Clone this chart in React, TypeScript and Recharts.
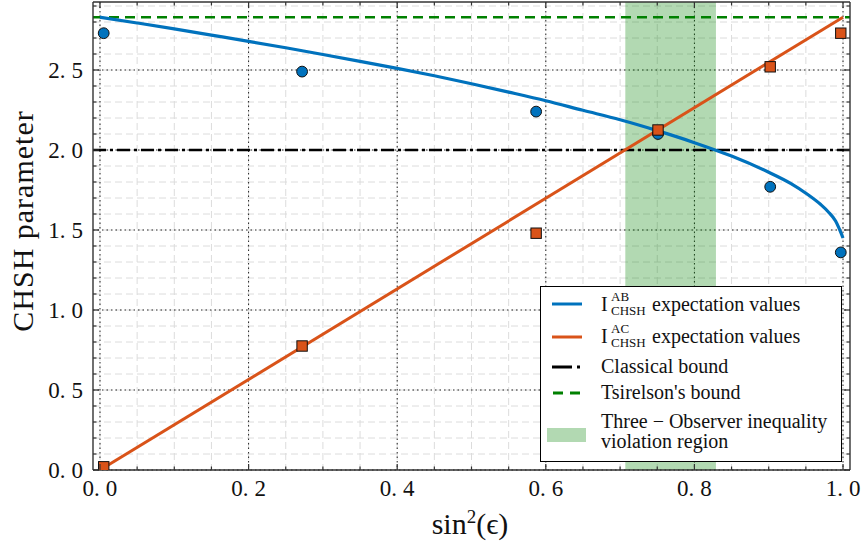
import { ComposedChart, Line, Scatter, XAxis, YAxis, CartesianGrid, ReferenceLine, ReferenceArea, Legend } from 'recharts'

// theory curve for I_AB
const curveX = [0, 0.05, 0.1, 0.15, 0.2, 0.25, 0.3, 0.35, 0.4, 0.45, 0.5, 0.55, 0.6, 0.65, 0.7, 0.75, 0.8, 0.85, 0.9, 0.93, 0.95, 0.97, 0.98, 0.99, 1.0]
const curveAB = [2.83, 2.794, 2.757, 2.718, 2.679, 2.639, 2.597, 2.554, 2.51, 2.464, 2.414, 2.362, 2.308, 2.248, 2.189, 2.121, 2.046, 1.962, 1.861, 1.79, 1.73, 1.659, 1.614, 1.556, 1.45]
// I_AC is a straight line
const lineACX = [0, 1.0]
const lineACY = [0, 2.83]

// measured expectation values
const expX = [0.005, 0.272, 0.587, 0.751, 0.902, 0.997]
const expAB = [2.73, 2.49, 2.24, 2.1, 1.77, 1.36]
const expAC = [0.02, 0.775, 1.48, 2.125, 2.52, 2.73]

const classicalBound = 2.0
const tsirelsonBound = 2.83
const violationStart = 0.707
const violationEnd = 0.829

const xMajor = [0, 0.2, 0.4, 0.6, 0.8, 1.0]
const xTicks = [0, 0.05, 0.1, 0.15, 0.2, 0.25, 0.3, 0.35, 0.4, 0.45, 0.5, 0.55, 0.6, 0.65, 0.7, 0.75, 0.8, 0.85, 0.9, 0.95, 1.0]
const yMajor = [0, 0.5, 1.0, 1.5, 2.0, 2.5]
const yTicks = [0, 0.1, 0.2, 0.3, 0.4, 0.5, 0.6, 0.7, 0.8, 0.9, 1.0, 1.1, 1.2, 1.3, 1.4, 1.5, 1.6, 1.7, 1.8, 1.9, 2.0, 2.1, 2.2, 2.3, 2.4, 2.5, 2.6, 2.7, 2.8, 2.9]

const curveData = curveX.map((x, i) => ({ x, y: curveAB[i] }))
const lineData = lineACX.map((x, i) => ({ x, y: lineACY[i] }))
const pointsAB = expX.map((x, i) => ({ x, y: expAB[i] }))
const pointsAC = expX.map((x, i) => ({ x, y: expAC[i] }))

const BLUE = '#0072BD'
const ORANGE = '#D95319'
const FONT = '"Liberation Serif", "DejaVu Serif", serif'
const FRAME = '#333'

const isMajor = (list: number[], v: number) => list.some((m) => Math.abs(m - v) < 1e-6)

const TickLabel = ({ x, y, v, anchor }: any) => {
  const [a, b] = v.toFixed(1).split('.')
  return (
    <text x={x} y={y} textAnchor={anchor} fontFamily={FONT} fontSize={23} fill="#111">
      {a}.<tspan dx={6}>{b}</tspan>
    </text>
  )
}

// plot frame edges: x 93..850, y 2..470
const BottomTick = ({ x, payload }: any) => {
  const major = isMajor(xMajor, payload.value)
  const y = 470
  return (
    <g>
      <line x1={x} x2={x} y1={y} y2={y - (major ? 6 : 3.5)} stroke={FRAME} strokeWidth={1.2} />
      {major && <TickLabel x={x} y={y + 26} v={payload.value} anchor="middle" />}
    </g>
  )
}

const TopTick = ({ x, payload }: any) => {
  const major = isMajor(xMajor, payload.value)
  return <line x1={x} x2={x} y1={2} y2={2 + (major ? 6 : 3.5)} stroke={FRAME} strokeWidth={1.2} />
}

const LeftTick = ({ y, payload }: any) => {
  const major = isMajor(yMajor, payload.value)
  const x = 93
  return (
    <g>
      <line x1={x} x2={x + (major ? 6 : 3.5)} y1={y} y2={y} stroke={FRAME} strokeWidth={1.2} />
      {major && <TickLabel x={x - 10} y={y + 8} v={payload.value} anchor="end" />}
    </g>
  )
}

const RightTick = ({ y, payload }: any) => {
  const major = isMajor(yMajor, payload.value)
  return <line x1={850} x2={850 - (major ? 6 : 3.5)} y1={y} y2={y} stroke={FRAME} strokeWidth={1.2} />
}

const Circle = (p: any) => <circle cx={p.cx} cy={p.cy} r={5.4} fill={BLUE} stroke="#111" strokeWidth={1} />
const Square = (p: any) => <rect x={p.cx - 5.2} y={p.cy - 5.2} width={10.4} height={10.4} fill={ORANGE} stroke="#111" strokeWidth={1} />

// I with stacked superscript / subscript, kept in one text element
const ChshLabel = ({ x, b, sup }: { x: number; b: number; sup: string }) => (
  <text x={x} y={b} fontFamily={FONT} fontSize={20} fill="#111">
    I
    <tspan x={x + 10} dy={-10} fontSize={13}>{sup}</tspan>
    <tspan x={x + 10} dy={14} fontSize={13}>CHSH</tspan>
    <tspan x={x + 51} dy={-4}>expectation values</tspan>
  </text>
)

const LegendBox = () => (
  <div style={{ width: 302, height: 176, boxSizing: 'border-box', border: '1px solid #000', background: '#fff' }}>
    <svg width={300} height={174} style={{ display: 'block' }}>
      <g transform="translate(-1,-1)">
        <line x1={12} x2={42} y1={18} y2={18} stroke={BLUE} strokeWidth={3} />
        <ChshLabel x={61} b={25} sup="AB" />
        <line x1={12} x2={42} y1={51} y2={51} stroke={ORANGE} strokeWidth={3} />
        <ChshLabel x={61} b={57} sup="AC" />
        <line x1={12} x2={42} y1={81} y2={81} stroke="#000" strokeWidth={3} strokeDasharray="20 5 3 5" />
        <text x={61} y={87} fontFamily={FONT} fontSize={20} fill="#111">Classical bound</text>
        <line x1={13} x2={43} y1={107} y2={107} stroke="#008000" strokeWidth={3} strokeDasharray="10 7" />
        <text x={61} y={113} fontFamily={FONT} fontSize={20} fill="#111">Tsirelson's bound</text>
        <rect x={7} y={142} width={39} height={14} fill="#008000" fillOpacity={0.3} />
        <text x={61} y={142} fontFamily={FONT} fontSize={20} fill="#111">Three − Observer inequality</text>
        <text x={61} y={162} fontFamily={FONT} fontSize={20} fill="#111">violation region</text>
      </g>
    </svg>
  </div>
)

export default function App() {
  return (
    <div style={{ position: 'absolute', left: 0, top: 0, background: '#fff' }}>
      <ComposedChart width={863} height={549} margin={{ top: 1, right: 12, bottom: 78, left: 92 }}>
        <CartesianGrid verticalValues={xTicks} horizontalValues={yTicks} stroke="#dcdcdc" strokeDasharray="7 4" strokeWidth={1} />
        <CartesianGrid verticalValues={xMajor} horizontalValues={yMajor} stroke="#222" strokeDasharray="1.5 3" strokeWidth={1} />
        <XAxis dataKey="x" type="number" domain={[-0.0094, 1.0094]} allowDataOverflow ticks={xTicks} interval={0}
          height={1} tickSize={0} tickMargin={0} tickLine={false} tick={<BottomTick />}
          axisLine={{ stroke: FRAME, strokeWidth: 1.4 }}
          label={{ content: () => (
            <text x={470} y={534} textAnchor="middle" fontFamily={FONT} fontSize={30} fill="#111">
              sin<tspan dy={-11} fontSize={19}>2</tspan><tspan dy={11}>(ϵ)</tspan>
            </text>
          ) }} />
        <XAxis xAxisId="top" orientation="top" dataKey="x" type="number" domain={[-0.0094, 1.0094]} allowDataOverflow ticks={xTicks} interval={0}
          height={1} tickSize={0} tickMargin={0} tickLine={false} tick={<TopTick />}
          axisLine={{ stroke: FRAME, strokeWidth: 1.4 }} />
        <YAxis type="number" domain={[0, 2.925]} allowDataOverflow ticks={yTicks} interval={0}
          width={1} tickSize={0} tickMargin={0} tickLine={false} tick={<LeftTick />}
          axisLine={{ stroke: FRAME, strokeWidth: 1.4 }}
          label={{ content: () => (
            <text x={23} y={221} transform="rotate(-90 23 221)" dy={10} textAnchor="middle" fontFamily={FONT} fontSize={30} letterSpacing={1} fill="#111">
              CHSH parameter
            </text>
          ) }} />
        <YAxis yAxisId="right" orientation="right" type="number" domain={[0, 2.925]} allowDataOverflow ticks={yTicks} interval={0}
          width={1} tickSize={0} tickMargin={0} tickLine={false} tick={<RightTick />}
          axisLine={{ stroke: FRAME, strokeWidth: 1.4 }} />

        <ReferenceArea x1={violationStart} x2={violationEnd} y1={0} y2={2.925} fill="#008000" fillOpacity={0.3} stroke="none" ifOverflow="hidden" />
        <ReferenceLine y={classicalBound} stroke="#000" strokeWidth={2.6} strokeDasharray="13 4 3 4" />
        <ReferenceLine y={tsirelsonBound} stroke="#008000" strokeWidth={2.6} strokeDasharray="10 6" />

        <Line data={curveData} dataKey="y" type="monotone" stroke={BLUE} strokeWidth={3.2} dot={false} isAnimationActive={false} />
        <Line data={lineData} dataKey="y" type="linear" stroke={ORANGE} strokeWidth={3} dot={false} isAnimationActive={false} />
        <Scatter data={pointsAB} dataKey="y" shape={<Circle />} isAnimationActive={false} />
        <Scatter data={pointsAC} dataKey="y" shape={<Square />} isAnimationActive={false} />

        <Legend layout="horizontal" verticalAlign="middle" align="center" content={<LegendBox />}
          wrapperStyle={{ left: 540, top: 286, width: 302, height: 176 }} />
      </ComposedChart>
    </div>
  )
}
